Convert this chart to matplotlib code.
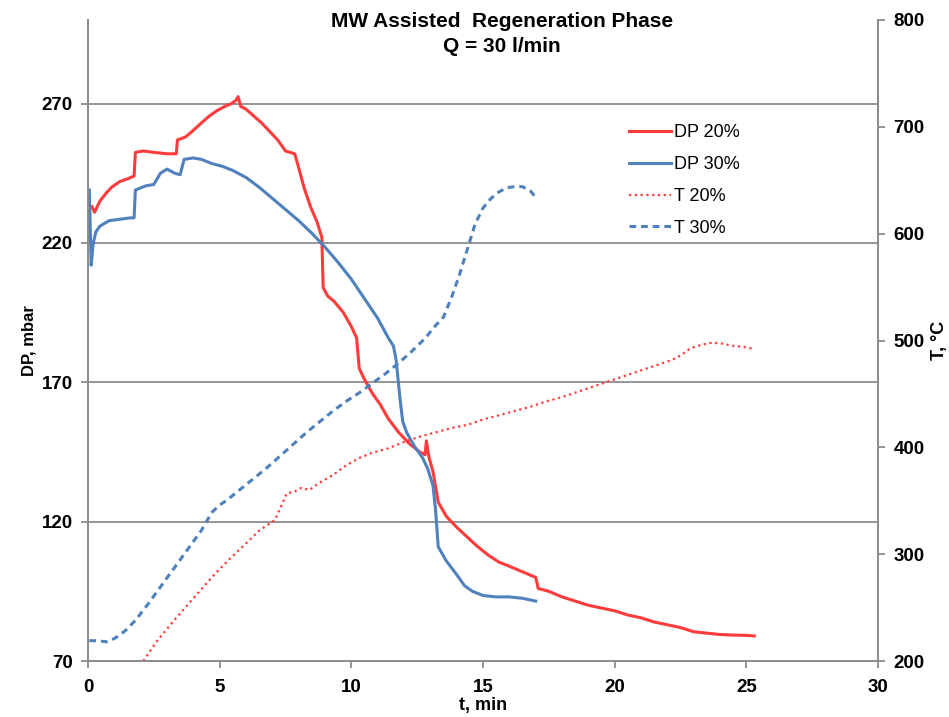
import matplotlib
matplotlib.use("Agg")
import matplotlib.pyplot as plt

plt.rcParams['font.family'] = ['Liberation Sans', 'DejaVu Sans']

# ---- data ----
t_dp20 = [0.15, 0.25, 0.45, 0.7, 0.9, 1.2, 1.5, 1.75, 1.8, 2.1, 2.5, 3.0, 3.35, 3.4, 3.7, 3.95, 4.3, 4.6, 4.9, 5.2, 5.45,
          5.6, 5.7, 5.8, 6.0, 6.3, 6.6, 6.9, 7.2, 7.5, 7.85, 8.0, 8.2, 8.45, 8.7, 8.88, 8.93, 9.1, 9.35, 9.7, 10.0,
          10.2, 10.3, 10.5, 10.8, 11.1, 11.4, 11.8, 12.2, 12.6, 12.8, 12.85, 12.95, 13.1, 13.3, 13.6, 14.0, 14.4,
          14.8, 15.2, 15.6, 16.0, 16.5, 17.0, 17.1, 17.5, 18.0, 18.5, 19.0, 19.5, 20.0, 20.5, 21.0, 21.5, 22.0,
          22.5, 23.0, 23.5, 24.0, 24.5, 25.0, 25.3]
dp20 = [233, 231, 235, 238, 240, 242, 243, 244, 252.5, 253, 252.5, 252, 252, 257, 258, 260, 263, 265.5, 267.5, 269,
        270, 271, 272.5, 269, 268, 265.5, 263, 260, 257, 253, 252, 247, 240, 233, 227.5, 222, 204, 201, 199, 195,
        190, 186, 175, 171, 166, 162, 157, 152, 148, 145, 144, 149, 143, 138, 127, 122, 118, 114.5, 111, 108,
        105.5, 104, 102, 100, 96, 95, 93, 91.5, 90, 89, 88, 86.5, 85.5, 84, 83, 82, 80.5, 80, 79.5, 79.3, 79.2, 79]

t_dp30 = [0.05, 0.12, 0.2, 0.3, 0.45, 0.8, 1.2, 1.6, 1.75, 1.8, 2.2, 2.5, 2.75, 3.0, 3.3, 3.5, 3.65, 4.0, 4.3, 4.7,
          5.1, 5.5, 6.0, 6.5, 7.0, 7.5, 8.0, 8.5, 9.0, 9.5, 10.0, 10.5, 11.0, 11.4, 11.6, 11.7, 11.85, 11.95, 12.1,
          12.4, 12.7, 12.9, 13.1, 13.2, 13.3, 13.6, 14.0, 14.3, 14.6, 15.0, 15.5, 16.0, 16.5, 17.0]
dp30 = [239, 212, 220, 224, 226, 228, 228.5, 229, 229, 239, 240.5, 241, 245, 246.5, 245, 244.5, 250, 250.5, 250,
        248.5, 247.5, 246, 243.5, 240, 236, 232, 228, 223.5, 218.5, 213, 207, 200, 193, 186, 183, 178, 164, 156,
        152, 147, 143, 139, 133, 124, 111, 106, 101, 97, 95, 93.5, 93, 93, 92.5, 91.5]

t_t20 = [2.1, 2.6, 3.2, 3.8, 4.3, 4.8, 5.4, 6.0, 6.5, 7.1, 7.3, 7.55, 7.8, 8.1, 8.4, 8.8, 9.3, 9.8, 10.3, 10.8,
         11.4, 12.0, 12.6, 13.2, 13.8, 14.4, 15.0, 15.6, 16.2, 16.8, 17.4, 18.0, 18.6, 19.2, 19.8, 20.4, 21.0,
         21.6, 22.2, 22.5, 22.9, 23.3, 23.7, 24.1, 24.5, 24.9, 25.3]
t20 = [200, 218, 236, 253, 267, 281, 296, 310, 322, 332, 343, 357, 358, 362, 360, 367, 374, 383, 390, 395,
       399, 405, 410, 414, 418, 421, 426, 430, 434, 438, 443, 447, 452, 457, 462, 467, 472, 477, 482, 486,
       493, 496, 498, 497, 495, 494, 492]

t_t30 = [0.05, 0.3, 0.7, 1.0, 1.4, 1.8, 2.3, 2.8, 3.3, 3.8, 4.3, 4.7, 5.0, 5.3, 5.8, 6.3, 6.8, 7.3, 7.8, 8.3,
         8.8, 9.3, 9.8, 10.3, 10.8, 11.3, 11.8, 12.3, 12.8, 13.2, 13.5, 13.8, 14.1, 14.4, 14.7, 15.0, 15.3,
         15.6, 15.9, 16.2, 16.5, 16.8, 17.0]
t30 = [219, 219, 218, 221, 228, 238, 254, 271, 288, 305, 322, 339, 346, 351, 361, 371, 381, 392, 403, 414,
       424, 434, 443, 451, 460, 469, 479, 490, 502, 514, 522, 540, 561, 585, 609, 624, 633, 639, 643, 644,
       644, 640, 634]

xticks = [0, 5, 10, 15, 20, 25, 30]
dp_ticks = [70, 120, 170, 220, 270]
t_ticks = [200, 300, 400, 500, 600, 700, 800]

RED = '#FF3B3B'
BLUE = '#4F81BD'
GRAY = '#8C8C8C'

fig = plt.figure(figsize=(9.49, 7.17), dpi=100)
ax = fig.add_axes([88/949, 1 - 661/717, (878-88)/949, (661-20)/717])
ax2 = ax.twinx()

l1, = ax.plot(t_dp20, dp20, color=RED, lw=2.2, label='DP 20%')
l2, = ax.plot(t_dp30, dp30, color=BLUE, lw=2.2, label='DP 30%')
l3, = ax2.plot(t_t20, t20, color=RED, lw=1.6, ls=(0, (1, 1.6)), label='T 20%')
l4, = ax2.plot(t_t30, t30, color=BLUE, lw=2.2, ls=(0, (2.2, 1.6)), label='T 30%')

ax.set_xlim(0, 30)
ax.set_ylim(70, 300)
ax2.set_ylim(200, 800)
ax.set_xticks(xticks)
ax.set_yticks(dp_ticks)
ax2.set_yticks(t_ticks)

for a in (ax, ax2):
    for s in a.spines.values():
        s.set_color(GRAY)
        s.set_linewidth(1.3)
    a.spines['top'].set_visible(False)
ax.grid(axis='y', color=GRAY, lw=1.3)
ax.set_axisbelow(True)

tick_kw = dict(direction='out', length=5, width=1.3, color=GRAY, labelsize=13.5, labelcolor='black')
ax.tick_params(axis='y', pad=6, **tick_kw)
ax.tick_params(axis='x', pad=8, **tick_kw)
ax2.tick_params(axis='y', pad=6, **tick_kw)
for lab in ax.get_xticklabels() + ax.get_yticklabels() + ax2.get_yticklabels():
    lab.set_fontweight('bold')

ax.set_xlabel('t, min', fontsize=13, fontweight='bold', labelpad=1)
ax.set_ylabel('DP, mbar', fontsize=12, fontweight='bold', labelpad=4)
ax2.set_ylabel('T, °C', fontsize=13, fontweight='bold', labelpad=5)

fig.text(502 / 949, 1 - 34/717, 'MW Assisted  Regeneration Phase\nQ = 30 l/min',
         ha='center', va='center', fontsize=15, fontweight='bold', linespacing=1.45)

leg = ax.legend(handles=[l1, l2, l3, l4], loc='upper left',
                bbox_to_anchor=((622 - 88) / 790, 1 - (117 - 20) / 641), frameon=False,
                fontsize=13, handlelength=2.3, handletextpad=0.2, labelspacing=0.82, borderaxespad=0)

fig.savefig('out.png', dpi=100)
